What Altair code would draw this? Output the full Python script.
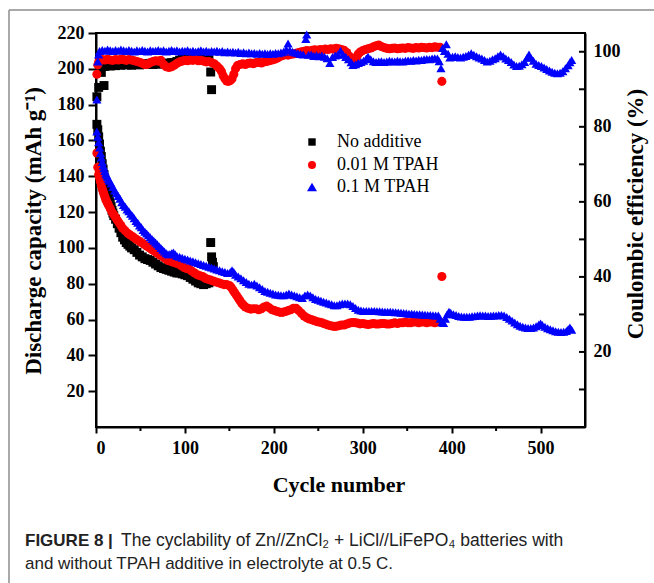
import altair as alt
import pandas as pd

# ---------------- data ----------------
SERIES = ["No additive", "0.01 M TPAH", "0.1 M TPAH"]
COLORS = ["#000000", "#ff0000", "#0000ff"]
SHAPES = ["square", "circle", "triangle-up"]

x_major = [0, 100, 200, 300, 400, 500]
x_minor = [50, 150, 250, 350, 450]
cap_ticks = [20, 40, 60, 80, 100, 120, 140, 160, 180, 200, 220]
ce_labels = [20, 40, 60, 80, 100]
ce_ticks = [10, 20, 30, 40, 50, 60, 70, 80, 90, 100]

# discharge capacity (mAh/g): (cycle, value)
black_cap = [(1,169),(2,166),(3,162),(4,158),(5,154),(6,151),(7,147),(8,144),(9,141),(10,138),(11,135.5),(12,133),(13,131),(14,129),(15,127),(16,125),(17,123),(18,121),(19,119.5),(20,118),(22,116),(24,113.5),(26,111),(28,108.5),(30,106),(32,104.5),(34,103),(36,102),(38,101),(40,100),(43,99),(46,97.5),(49,96),(52,95),(55,94),(58,93.5),(61,93),(64,92),(67,91),(70,90),(73,89),(76,88.5),(79,88),(82,87.5),(85,87),(88,86.5),(91,86),(94,86),(97,85.5),(100,85),(103,84.5),(106,83.5),(109,82.5),(112,81.5),(115,80.5),(118,80),(121,79.5),(124,80),(127,80.5),(129,103),(130,95),(131,92),(132,89.5)]

red_cap = [(1,153),(2,145),(3,141),(4,139),(5,137),(6,135),(7,133),(8,131.5),(9,130),(10,128.5),(11,127),(12,126),(13,125),(14,124),(16,122),(18,120),(20,118.5),(22,117),(24,115.5),(26,114),(28,112.5),(30,111),(33,109.5),(36,108),(39,107),(42,106),(45,105),(48,104),(51,103),(54,102),(57,101),(60,100),(63,99),(66,98),(69,97),(72,96),(75,95),(78,94),(81,93),(84,92.5),(87,92),(90,91.5),(93,91),(96,90),(99,89),(102,88.5),(105,88),(108,87),(111,86),(114,85),(117,84.5),(120,84),(123,83),(126,82.5),(129,82),(132,81.5),(135,81),(138,80.5),(141,80),(144,79.5),(147,79.5),(150,79),(152,78),(154,76.5),(156,75),(158,73.5),(160,72),(162,70.5),(164,69),(166,68),(168,67),(171,66.3),(174,65.8),(177,66),(180,66),(183,65.5),(186,66),(189,67),(192,67.5),(195,66.5),(198,65.5),(201,65),(204,64.5),(207,64),(210,64),(213,64.5),(216,65),(219,65.5),(222,66.3),(225,66.3),(228,65),(231,63.5),(234,62),(237,61),(240,60.3),(243,59.8),(246,59.3),(249,58.8),(252,58.5),(255,58),(258,57.5),(261,57),(264,56.5),(267,56.2),(270,56.2),(273,56.5),(276,57),(279,57),(282,57.5),(285,58),(288,58.3),(291,58.3),(294,58),(297,57.6),(300,57.8),(303,57.5),(306,57.2),(309,57.5),(312,57.8),(315,57.5),(318,57.5),(321,57.8),(324,57.8),(327,57.5),(330,57.5),(333,57.8),(336,58.2),(339,57.8),(342,58.2),(345,58.2),(348,58.6),(351,58.2),(354,58.2),(357,58.6),(360,58.6),(363,58.2),(366,58.6),(369,58.6),(372,58.2),(375,58.6),(378,58.6),(381,58.2),(384,58.6),(387,58.6),(389,84)]

blue_cap = [(1,165),(2,162),(3,159),(4,156),(5,153),(6,150.5),(7,148),(8,146),(9,144.5),(10,143),(11,141.5),(12,140.5),(13,139.5),(14,138.5),(15,137.5),(17,136),(19,134),(21,132),(23,130.5),(25,129),(27,127.5),(29,125.5),(31,124),(33,123),(35,121.5),(37,120.5),(39,119),(41,118),(43,116.5),(45,115),(47,114),(49,112.5),(51,111.5),(53,110),(55,109),(57,108),(59,107),(61,106),(63,105),(65,104),(67,103),(69,102),(71,101),(73,100),(75,99),(77,98),(79,97),(81,96.5),(83,96.5),(85,97),(87,97.5),(89,96.5),(91,95.5),(94,95),(97,94.5),(100,94),(103,93.5),(106,93),(109,92.5),(112,92),(115,91.5),(118,91),(121,90.5),(124,90),(127,89.5),(130,89),(133,88.5),(136,88),(139,87.5),(142,87),(145,86.5),(148,86),(151,86.5),(153,87.5),(155,86.5),(157,85),(160,84),(163,83),(166,82),(169,81),(172,80),(175,79.5),(178,80),(181,79),(184,78),(187,77),(190,76),(193,75.5),(196,75),(199,74.5),(202,74),(205,73.8),(208,73.6),(211,73.5),(214,74),(217,74.5),(220,74),(223,73.5),(226,73),(229,72.5),(232,72),(235,73.5),(238,74),(241,73.5),(244,72.5),(247,71.5),(250,71),(253,70.5),(256,70),(259,69.5),(262,69),(265,68.5),(268,68),(271,68),(274,68.5),(277,69),(280,69),(283,69),(286,68.5),(289,67.5),(292,66.5),(295,65.5),(298,65),(301,64.8),(304,64.8),(307,64.8),(310,64.8),(313,64.8),(316,64.7),(319,64.6),(322,64.5),(325,64.4),(328,64.3),(331,64.3),(334,64.2),(337,64.1),(340,64),(343,63.8),(346,63.6),(349,63.5),(352,63.3),(355,63.2),(358,63.1),(361,63),(364,62.9),(367,62.8),(370,62.7),(373,62.6),(376,62.5),(379,62.4),(382,62.3),(385,62.2),(387,60.5),(389,58.5),(391,58),(393,60.5),(395,63),(397,64.3),(399,63.8),(402,63),(405,62.5),(408,62),(411,61.7),(414,61.6),(417,61.5),(420,61.6),(423,61.8),(426,62),(429,62.3),(432,62.4),(435,62.3),(438,62.2),(441,62),(444,62.1),(447,62.2),(450,62.3),(453,62.5),(456,62.6),(459,62.2),(462,61.4),(465,60.4),(468,59.4),(471,58.4),(474,57.4),(477,56.6),(480,56),(483,55.5),(486,55.3),(489,55.3),(492,55.6),(495,56.2),(498,57.2),(500,57.8),(502,57),(505,56),(508,55.2),(511,54.6),(514,54),(517,53.5),(520,53.2),(523,53),(526,53.2),(529,53.6),(531,54.6),(533,55.6),(535,54.3)]

# coulombic efficiency (%): (cycle, value)
black_ce = [(1,88),(3,90.5),(4,95),(6,94.5),(9,91),(10,96.1),(13,96.4),(16,96.2),(19,96.5),(22,96.3),(25,96.6),(28,96.4),(31,96.6),(34,96.5),(37,96.7),(40,96.4),(43,96.6),(46,96.8),(49,96.5),(52,96.6),(55,96.8),(58,96.7),(61,96.9),(64,96.6),(67,96.8),(70,96.7),(73,96.9),(76,96.8),(79,97),(82,96.8),(85,97.1),(88,97.1),(91,97.4),(94,97.7),(97,98),(100,98.2),(103,98.3),(106,98.1),(109,98.2),(112,98),(115,98.1),(118,97.9),(121,98),(124,97.8),(127,97.9),(129,94.6),(130,89.9)]

red_ce = [(1,94),(2,96.5),(3,97.3),(4,97.6),(7,97.9),(10,97.8),(13,98),(16,97.8),(19,97.7),(22,97.9),(25,97.8),(28,98),(31,97.9),(34,97.7),(37,97.9),(40,97.8),(43,97.6),(46,97.4),(49,97.2),(52,96.9),(55,96.6),(58,96.7),(61,97.1),(64,97.4),(67,97.6),(70,97.5),(73,97.7),(76,96.6),(79,96),(82,95.8),(85,96),(88,96.4),(91,96.9),(94,97.3),(97,97.5),(100,97.7),(103,97.6),(106,97.8),(109,97.7),(112,97.9),(115,97.6),(118,97.7),(121,97.5),(124,97.3),(127,97.4),(130,97.1),(133,96.8),(136,96.2),(139,95.5),(141,94.8),(143,93.6),(145,92.8),(147,92.2),(149,92.1),(151,92.3),(153,92.8),(155,94),(157,95.5),(159,96.3),(162,96.6),(165,96.8),(168,96.6),(171,96.9),(174,97),(177,96.8),(180,97.1),(183,97.2),(186,97),(189,97.3),(192,97.4),(195,97.6),(198,97.8),(201,98),(204,98.3),(207,98.7),(210,99),(213,99.2),(216,99.1),(219,99.3),(222,99.4),(225,99.6),(228,99.8),(231,100),(234,100.1),(237,100.3),(240,100.2),(243,100.4),(246,100.5),(249,100.4),(252,100.6),(255,100.5),(258,100.7),(261,100.6),(264,100.8),(267,100.7),(270,100.9),(273,100.8),(276,100.6),(279,100.4),(282,99.8),(285,98.8),(287,97.8),(289,97.2),(291,97.6),(293,98.6),(295,99.4),(297,99.9),(300,100.3),(303,100.6),(306,100.8),(309,101),(312,101.3),(315,101.6),(318,101.8),(321,101.4),(324,101.1),(327,100.9),(330,100.8),(333,100.9),(336,101),(339,100.8),(342,100.9),(345,101),(348,100.9),(351,101.1),(354,101),(357,100.9),(360,101.1),(363,101),(366,101.2),(369,101.1),(372,101),(375,101.2),(378,101.1),(381,101.3),(384,101.2),(387,101.2),(389,92.1)]

blue_ce = [(1,87.3),(2,97.4),(3,99.3),(4,100.2),(7,100.5),(10,100.3),(13,100.6),(16,100.4),(19,100.2),(22,100.5),(25,100.3),(28,100.6),(31,100.4),(34,100.2),(37,100.5),(40,100.3),(43,100.1),(46,100.4),(49,100.2),(52,100.5),(55,100.3),(58,100.1),(61,100.4),(64,100.2),(67,100.3),(70,100.5),(73,100.2),(76,100.4),(79,100.1),(82,100.3),(85,100.5),(88,100.2),(91,100.4),(94,100.1),(97,100.3),(100,100.2),(103,100.4),(106,100.1),(109,100.3),(112,100),(115,100.2),(118,100.4),(121,100.1),(124,100.3),(127,100),(130,100.2),(133,100.1),(136,100.3),(139,100),(142,100.2),(145,99.9),(148,100.1),(151,99.9),(154,100),(157,99.8),(160,100),(163,99.7),(166,99.9),(169,99.6),(172,99.8),(175,99.6),(178,99.7),(181,99.5),(184,99.7),(187,99.5),(190,99.6),(193,99.4),(196,99.6),(199,99.5),(202,99.7),(205,99.6),(208,99.8),(211,100),(214,100.6),(216,102.2),(218,100.4),(221,100),(224,99.8),(227,99.6),(230,99.4),(233,99.3),(236,103.4),(237,104.6),(239,99.2),(242,99.3),(245,98.9),(248,99.1),(251,98.8),(254,99),(257,98.7),(260,98.3),(263,97),(266,98.6),(269,99),(272,99.3),(275,100.3),(278,99.2),(281,98.6),(284,98),(287,97.2),(289,96.5),(292,96.7),(295,97),(298,97.3),(301,97.6),(304,98.2),(306,98.7),(309,98),(312,97.5),(315,97.3),(318,97.4),(321,97.5),(324,97.3),(327,97.4),(330,97.6),(333,97.5),(336,97.4),(339,97.6),(342,97.5),(345,97.4),(348,97.6),(351,97.7),(354,97.6),(357,97.8),(360,97.7),(363,97.9),(366,97.8),(369,98),(372,98.1),(375,98),(378,98.2),(381,98.3),(384,98.2),(386,97.5),(388,95.6),(390,101),(392,100.2),(394,102),(396,99.5),(398,98.5),(401,98.7),(404,98.8),(407,98.6),(410,98.5),(413,98.7),(416,98.9),(419,99.2),(422,99.6),(425,99.2),(428,98.8),(431,98.5),(434,98.2),(437,97.8),(440,97.4),(443,97.6),(446,98),(449,98.3),(452,98.8),(455,99.3),(458,98.8),(461,98.2),(464,97.8),(467,97.3),(470,96.6),(473,96.2),(476,96.3),(479,96.7),(482,97.3),(485,98.5),(487,99.3),(489,98.4),(492,97.6),(495,96.8),(498,96.5),(501,96.2),(504,95.8),(507,95.4),(510,95),(513,94.7),(516,94.4),(519,94.3),(522,94.4),(525,94.8),(528,95.6),(531,96.4),(533,97.2),(535,97.8)]


def build(groups):
    rows = []
    i = 0
    for name, pairs in groups:
        for c, v in pairs:
            rows.append({"cycle": c, "value": v, "series": name, "idx": i})
            i += 1
    return pd.DataFrame(rows)


cap_df = build([(SERIES[0], black_cap), (SERIES[1], red_cap), (SERIES[2], blue_cap)])
ce_df = build([(SERIES[0], black_ce), (SERIES[1], red_ce), (SERIES[2], blue_ce)])

# ---------------- chart ----------------
W, H = 489, 394
SERIF = "Liberation Serif"
SANS = "Liberation Sans"
SIZES = [80, 85, 135]
LEG_SIZES = [55, 64, 100]

x_enc = alt.X("cycle:Q", scale=alt.Scale(domain=[0, 550], nice=False, zero=False),
              axis=alt.Axis(values=x_major, title=None, tickSize=6, labelPadding=6, format="d"))
color = alt.Color("series:N", scale=alt.Scale(domain=SERIES, range=COLORS), legend=None)
shape = alt.Shape("series:N", scale=alt.Scale(domain=SERIES, range=SHAPES), legend=None)
size = alt.Size("series:N", scale=alt.Scale(domain=SERIES, range=SIZES), legend=None)

cap = alt.Chart(cap_df).mark_point(filled=True, opacity=1).encode(
    x=x_enc,
    y=alt.Y("value:Q", scale=alt.Scale(domain=[0, 220], nice=False, zero=False),
            axis=alt.Axis(orient="left", values=cap_ticks, title=None, tickSize=8, labelPadding=4)),
    color=color, shape=shape, size=size, order=alt.Order("idx:Q"))

ce = alt.Chart(ce_df).mark_point(filled=True, opacity=1).encode(
    x=x_enc,
    y=alt.Y("value:Q", scale=alt.Scale(domain=[0, 105], nice=False, zero=False),
            axis=alt.Axis(orient="right", values=ce_labels, title=None, ticks=False,
                          tickSize=0, labelPadding=8)),
    color=color, shape=shape, size=size, order=alt.Order("idx:Q"))

rticks = alt.Chart(pd.DataFrame({"v": ce_ticks})).mark_rule(color="black", strokeWidth=2).encode(
    y=alt.Y("v:Q", scale=alt.Scale(domain=[0, 105], nice=False, zero=False), axis=None),
    x=alt.value(W - 6), x2=alt.value(W))

xminor = alt.Chart(pd.DataFrame({"cycle": x_minor})).mark_rule(color="black", strokeWidth=2).encode(
    x=x_enc, y=alt.value(H), y2=alt.value(H + 4))

one = alt.Data(values=[{"a": 1}])

frame_top = alt.Chart(one).mark_rule(color="#8c8c8c", strokeWidth=1.5).encode(
    x=alt.value(-87), x2=alt.value(570), y=alt.value(-23))
frame_left = alt.Chart(one).mark_rule(color="#8c8c8c", strokeWidth=1.5).encode(
    x=alt.value(-87), y=alt.value(-23), y2=alt.value(560))

legend_layers = []
leg_y = [109, 132, 154]
for name, col, shp, sz, yy in zip(SERIES, COLORS, SHAPES, LEG_SIZES, leg_y):
    legend_layers.append(alt.Chart(one).mark_point(filled=True, opacity=1, shape=shp, color=col, size=sz)
                         .encode(x=alt.value(216), y=alt.value(yy)))
    legend_layers.append(alt.Chart(one).mark_text(text=name, font=SERIF, fontSize=18, align="left",
                                                  baseline="middle", color="black")
                         .encode(x=alt.value(241), y=alt.value(yy)))

ytitle_l = alt.Chart(one).mark_text(text="Discharge capacity (mAh g\u207b\u00b9)", font=SERIF, fontSize=23,
                                    fontWeight="bold", angle=270, align="center", baseline="middle",
                                    color="black").encode(x=alt.value(-62), y=alt.value(198))
ytitle_r = alt.Chart(one).mark_text(text="Coulombic efficiency (%)", font=SERIF, fontSize=23,
                                    fontWeight="bold", angle=270, align="center", baseline="middle",
                                    color="black").encode(x=alt.value(540), y=alt.value(181))
xtitle = alt.Chart(one).mark_text(text="Cycle number", font=SERIF, fontSize=22, fontWeight="bold",
                                  align="center", baseline="middle", color="black").encode(
    x=alt.value(243), y=alt.value(452))

cap1a = alt.Chart(one).mark_text(text="FIGURE 8 |", font=SANS, fontSize=17, fontWeight="bold",
                                 align="left", baseline="alphabetic", color="#222222").encode(
    x=alt.value(-71), y=alt.value(513))
cap1b = alt.Chart(one).mark_text(text="The cyclability of Zn//ZnCl\u2082 + LiCl//LiFePO\u2084 batteries with",
                                 font=SANS, fontSize=17.5, align="left", baseline="alphabetic",
                                 color="#222222").encode(x=alt.value(25), y=alt.value(513))
cap2 = alt.Chart(one).mark_text(text="and without TPAH additive in electrolyte at 0.5 C.",
                                font=SANS, fontSize=17, align="left", baseline="alphabetic",
                                color="#222222").encode(x=alt.value(-71), y=alt.value(536))

chart = alt.layer(
    frame_top, frame_left, xminor, rticks, cap, ce, *legend_layers,
    ytitle_l, ytitle_r, xtitle, cap1a, cap1b, cap2
).resolve_scale(y="independent").properties(
    width=W, height=H,
    autosize=alt.AutoSizeParams(type="none"),
    padding={"left": 96, "top": 33, "right": 69, "bottom": 156},
).configure_view(stroke="black", strokeWidth=2).configure_axis(
    labelFont=SERIF, labelFontWeight="bold", labelFontSize=18, labelColor="black",
    domainColor="black", domainWidth=2, tickColor="black", tickWidth=2, grid=False,
)

chart.save("out.html", embed_options={"renderer": "svg", "actions": False})
